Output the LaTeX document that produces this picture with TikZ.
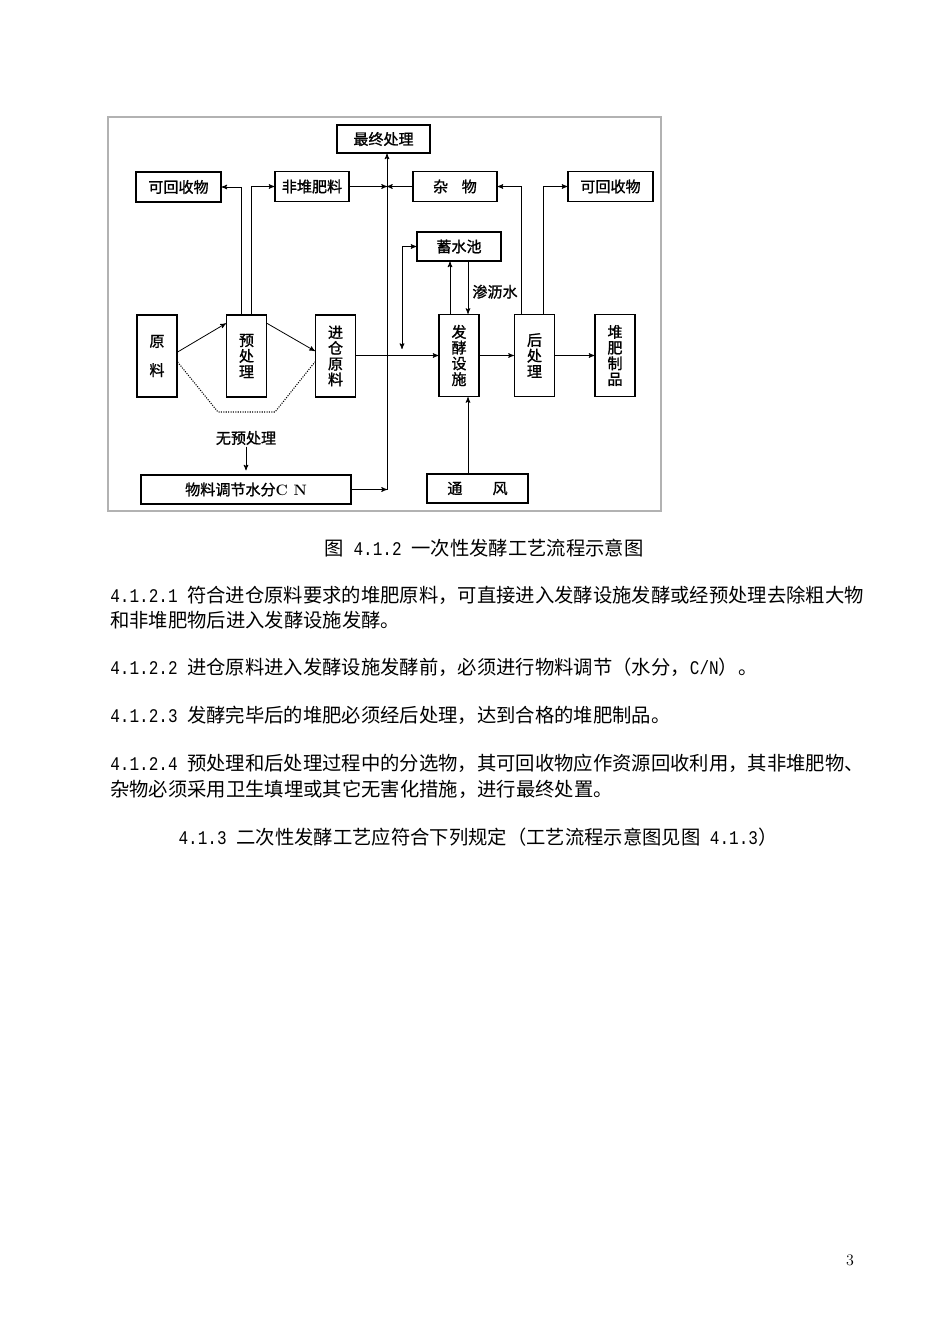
\documentclass[tikz,border=0pt]{standalone}
\usepackage{fontspec}
\newfontfamily\cjk{Noto Sans CJK SC}
\newfontfamily\cjkb[FakeBold=1.2]{Noto Sans CJK SC}
\newfontfamily\numfont[FakeStretch=0.83]{Liberation Mono}
\usetikzlibrary{arrows,calc}

\tikzset{
  box/.style={draw, line width=0.9pt, inner sep=0pt, align=center,
    font=\cjkb\fontsize{11.3}{11.8}\selectfont},
  hbox/.style={box, minimum width=63.75pt, minimum height=22.5pt},
  vbox/.style={box, minimum width=30pt, minimum height=61.5pt},
  flow/.style={->, >=stealth', line width=0.6pt},
  lbl/.style={font=\cjkb\fontsize{11.3}{13}\selectfont},
  txt/.style={anchor=west, inner sep=0pt, font=\cjk\fontsize{14.5}{17}\selectfont}
}

\begin{document}
\begin{tikzpicture}[x=0.75pt, y=-0.75pt]

    \useasboundingbox (0,0) rectangle (950,1344);
    \draw[gray!60, line width=1pt] (108,117) rectangle (661,511);

    % top row
    \node[box, minimum width=69.75pt, minimum height=21pt] (zzcl) at (383.5,139) {最终处理};
    \node[hbox] (hsL) at (178.5,187) {可回收物};
    \node[hbox, minimum width=55.5pt] (fdf) at (312,186.5) {非堆肥料};
    \node[hbox, minimum width=63pt] (zw) at (455,186.5) {杂\hspace{0.9em}物};
    \node[hbox] (hsR) at (610.5,186.5) {可回收物};
    \node[hbox, minimum width=63pt, minimum height=21.75pt] (xsc) at (459,246.5) {蓄水池};

    % main row
    \node[vbox] (yl) at (157,356) {原\\[10pt]料};
    \node[vbox] (ycl) at (246.5,356) {预\\处\\理};
    \node[vbox] (jc) at (335.5,356) {进\\仓\\原\\料};
    \node[vbox] (fj) at (459,355.5) {发\\酵\\设\\施};
    \node[vbox] (hcl) at (534.5,355.5) {后\\处\\理};
    \node[vbox] (dfzp) at (615,355.5) {堆\\肥\\制\\品};

    % bottom row
    \node[box, minimum width=157.5pt, minimum height=21.75pt] (tl) at (246,489.5) {物料调节水分{\rmfamily\bfseries C N}};
    \node[box, minimum width=75.75pt, minimum height=21.75pt] (tf) at (477.5,488.5) {通\hspace{2em}风};
    \node[lbl, inner sep=1pt] (wycl) at (246,438) {无预处理};

    \coordinate (trk) at (387,489.5);
    \coordinate (ret) at (402,349);
    \coordinate (fjl) at ($(fj.north)+(-9,0)$);
    \coordinate (fjr) at ($(fj.south)+(9,0)$);

    % connectors
    \draw[flow] ($(yl.east)+(0,-4)$) -- ($(ycl.north west)+(0,9)$);
    \draw[flow] ($(ycl.north east)+(0,9)$) -- ($(jc.west)+(0,-5)$);
    \draw[densely dotted, line width=0.8pt] ($(yl.east)+(0,6)$) -- (218,412) -- (275,412) -- ($(jc.west)+(0,6)$);
    \draw[flow] ($(ycl.north)+(-5,0)$) |- (hsL.east);
    \draw[flow] ($(ycl.north)+(5,0)$) |- (fdf.west);
    \draw[flow] (fdf.east) -- (fdf.east -| trk);
    \draw[flow] (zw.west) -- (zw.west -| trk);
    \draw[flow] (tl.east) -- (trk);
    \draw[flow] (trk) -- (trk |- zzcl.south);
    \draw[flow] (jc.east |- fj.west) -- (fj.west);
    \draw[flow] (fj.east) -- (hcl.west);
    \draw[flow] (hcl.east) -- (dfzp.west);
    \draw[flow] ($(hcl.north)+(-13,0)$) |- (zw.east);
    \draw[flow] ($(hcl.north)+(9,0)$) |- (hsR.west);
    \draw[flow] (fjl) -- (fjl |- xsc.south);
    \draw[flow] (fjr |- xsc.south) -- node[lbl, right, inner sep=3pt, yshift=-3pt] {渗沥水} (fjr |- fj.north);
    \draw[flow, <->] (ret) |- (xsc.west);
    \draw[flow] (fjr |- tf.north) -- (fjr);
    \draw[flow, shorten >=3pt] (wycl.south) -- (wycl.south |- tl.north);

    % text of the page
    \node[txt, anchor=center] (cap) at (484,548) {图{\numfont\ 4.1.2 }一次性发酵工艺流程示意图};
    \node[txt] (pa) at (110,595) {{\numfont 4.1.2.1 }符合进仓原料要求的堆肥原料，可直接进入发酵设施发酵或经预处理去除粗大物};
    \node[txt] (pb) at (110,620) {和非堆肥物后进入发酵设施发酵。};
    \node[txt] (pc) at (110,667) {{\numfont 4.1.2.2 }进仓原料进入发酵设施发酵前，必须进行物料调节（水分，{\numfont C/N}）。};
    \node[txt] (pd) at (110,715) {{\numfont 4.1.2.3 }发酵完毕后的堆肥必须经后处理，达到合格的堆肥制品。};
    \node[txt] (pe) at (110,763) {{\numfont 4.1.2.4 }预处理和后处理过程中的分选物，其可回收物应作资源回收利用，其非堆肥物、};
    \node[txt] (pf) at (110,789) {杂物必须采用卫生填埋或其它无害化措施，进行最终处置。};
    \node[txt, anchor=center] (pg) at (478,837) {{\numfont 4.1.3 }二次性发酵工艺应符合下列规定（工艺流程示意图见图{\numfont\ 4.1.3}）};
    \node[font=\fontsize{12}{14}\selectfont] (pnum) at (850,1260) {3};

\end{tikzpicture}
\end{document}
